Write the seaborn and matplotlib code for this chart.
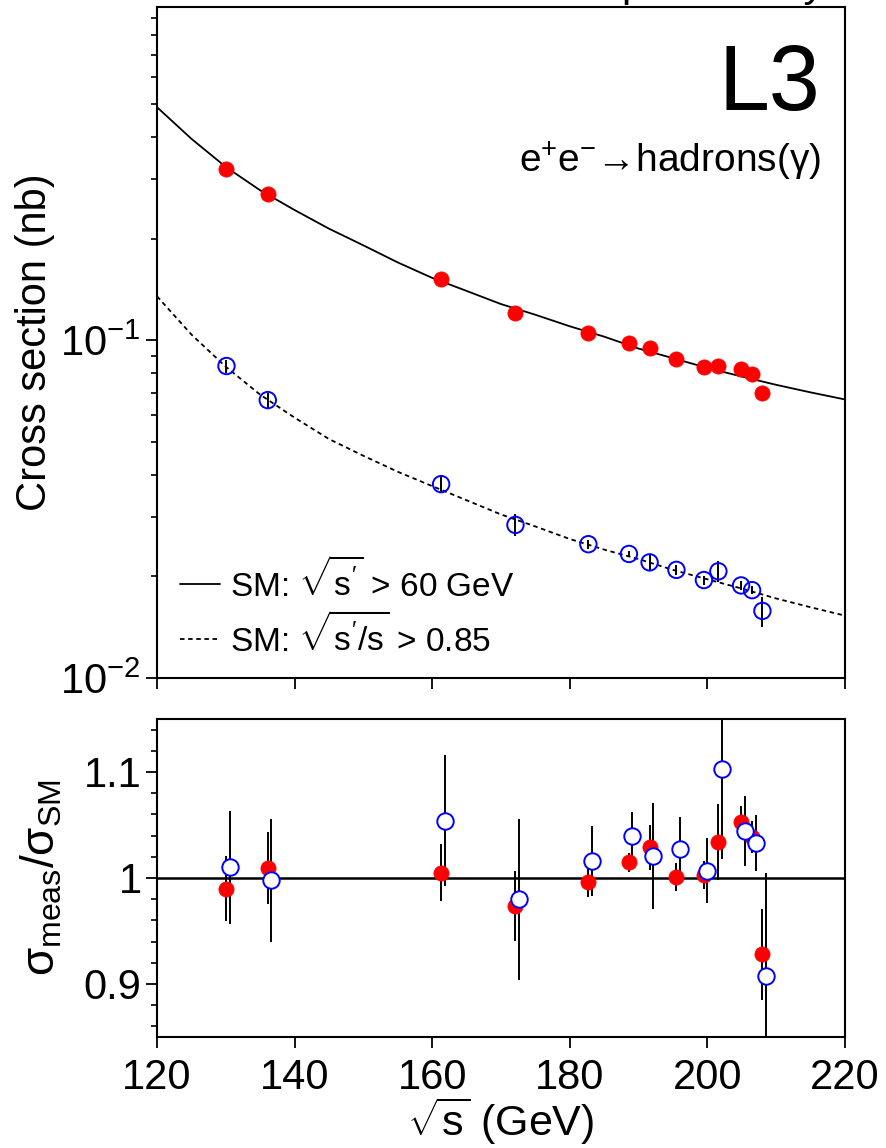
import numpy as np
import pandas as pd
import matplotlib
matplotlib.use("Agg")
import matplotlib.pyplot as plt
from matplotlib.ticker import FixedLocator, LogLocator, NullFormatter, MultipleLocator
import seaborn as sns

# --- data ---
energy = [130.1, 136.1, 161.3, 172.1, 182.7, 188.6, 191.6, 195.5, 199.5, 201.6, 204.9, 206.5, 208.0]

xsec_60 = [0.321, 0.271, 0.152, 0.1208, 0.1054, 0.098, 0.0951, 0.0882, 0.0835, 0.0839, 0.0824, 0.0797, 0.0700]
xsec_60_err = [0.004, 0.004, 0.003, 0.003, 0.0012, 0.0008, 0.0018, 0.0011, 0.0010, 0.0025, 0.0012, 0.0012, 0.003]
xsec_085 = [0.0839, 0.0665, 0.0375, 0.0284, 0.0249, 0.0233, 0.0220, 0.0209, 0.0195, 0.0207, 0.0188, 0.0182, 0.0158]
xsec_085_err = [0.0038, 0.0034, 0.0021, 0.0021, 0.0008, 0.0005, 0.0011, 0.0007, 0.0006, 0.0015, 0.0006, 0.0005, 0.0016]

curve_energy = [120, 125, 130, 135, 140, 145, 150, 155, 160, 165, 170, 175, 180, 185, 190, 195, 200, 205, 210, 215, 220]
curve_sm_60 = [0.49, 0.395, 0.326, 0.278, 0.243, 0.214, 0.191, 0.170, 0.153, 0.140, 0.128, 0.119, 0.110, 0.1025,
               0.0945, 0.0885, 0.0828, 0.0781, 0.0738, 0.0701, 0.0668]
curve_sm_085 = [0.135, 0.104, 0.0835, 0.0690, 0.0590, 0.0510, 0.0455, 0.0408, 0.0370, 0.0336, 0.0305, 0.0281, 0.0258,
                0.0240, 0.0225, 0.0209, 0.0196, 0.0184, 0.0172, 0.0162, 0.0153]

# ratio panel (blue points drawn slightly shifted in energy)
energy_ratio_blue = [130.6, 136.6, 161.8, 172.6, 183.2, 189.1, 192.1, 196.0, 200.0, 202.1, 205.4, 207.0, 208.5]
ratio_60 = [0.990, 1.009, 1.005, 0.974, 0.996, 1.015, 1.029, 1.001, 1.003, 1.034, 1.053, 1.039, 0.928]
ratio_60_err = [0.031, 0.034, 0.027, 0.033, 0.014, 0.009, 0.021, 0.013, 0.013, 0.036, 0.015, 0.015, 0.043]
ratio_085 = [1.010, 0.998, 1.054, 0.980, 1.016, 1.040, 1.021, 1.027, 1.007, 1.103, 1.044, 1.033, 0.908]
ratio_085_err = [0.053, 0.058, 0.062, 0.076, 0.033, 0.022, 0.050, 0.031, 0.031, 0.085, 0.033, 0.026, 0.097]

x_ticks = [120, 140, 160, 180, 200, 220]

sns.set_style("ticks")
plt.rcParams['font.family'] = ['Liberation Sans', 'DejaVu Sans']
plt.rcParams['mathtext.fontset'] = 'custom'
plt.rcParams['mathtext.rm'] = 'Liberation Sans'
plt.rcParams['mathtext.it'] = 'Liberation Sans'
plt.rcParams['mathtext.bf'] = 'Liberation Sans:bold'
plt.rcParams['axes.linewidth'] = 1.5
plt.rcParams['axes.edgecolor'] = 'black'
# seaborn's style greys the text; the reference is plain black
for key in ['text.color', 'axes.labelcolor', 'xtick.color', 'ytick.color']:
    plt.rcParams[key] = 'black'

RED = '#ff0000'
BLUE = '#0000ff'

fig = plt.figure(figsize=(8.86, 11.48), dpi=100)
ax = fig.add_axes([0.1772, 0.4094, 0.7765, 0.5845])
axr = fig.add_axes([0.1772, 0.0967, 0.7765, 0.2770])

curves = pd.DataFrame({'E': curve_energy, 'sm60': curve_sm_60, 'sm085': curve_sm_085})
pts = pd.DataFrame({'E': energy, 'x60': xsec_60, 'x085': xsec_085})

# --- top panel ---
sns.lineplot(data=curves, x='E', y='sm60', ax=ax, color='black', lw=1.3,
             label=r"SM: $\sqrt{s^{\prime}}$ > 60 GeV")
sns.lineplot(data=curves, x='E', y='sm085', ax=ax, color='black', lw=1.3, linestyle=(0, (2.5, 2.0)),
             label=r"SM: $\sqrt{s^{\prime}/s}$ > 0.85")
ax.errorbar(energy, xsec_60, yerr=xsec_60_err, fmt='none', ecolor='black', elinewidth=1.4, zorder=3)
ax.errorbar(energy, xsec_085, yerr=xsec_085_err, fmt='none', ecolor='black', elinewidth=1.4, zorder=3)
sns.scatterplot(data=pts, x='E', y='x60', ax=ax, color=RED, s=120, edgecolor=RED, linewidth=0.5, zorder=4)
sns.scatterplot(data=pts, x='E', y='x085', ax=ax, facecolor='none', edgecolor=BLUE, s=140, linewidth=1.4,
                marker='o', zorder=4)

ax.set_yscale('log')
ax.set_xlim(120, 220)
ax.set_ylim(0.01, 0.97)
ax.xaxis.set_major_locator(FixedLocator(x_ticks))
ax.set_xticklabels([])
ax.yaxis.set_major_locator(LogLocator(base=10, numticks=10))
ax.yaxis.set_minor_locator(LogLocator(base=10, subs=np.arange(2, 10), numticks=20))
ax.yaxis.set_minor_formatter(NullFormatter())
ax.tick_params(axis='both', which='major', direction='out', length=8, width=1.3, labelsize=30, pad=4)
ax.tick_params(axis='y', which='minor', direction='out', length=4.5, width=1.2)
ax.set_xlabel('')
ax.set_ylabel('Cross section (nb)', fontsize=30)
ax.yaxis.set_label_coords(-0.148, 0.5)

leg = ax.legend(loc='lower left', bbox_to_anchor=(0.033, 0.03), frameon=False, fontsize=24,
                handlelength=1.2, handletextpad=0.3, labelspacing=0.3, borderaxespad=0, borderpad=0)

ax.text(0.964, 0.846, 'L3', transform=ax.transAxes, ha='right', va='baseline', fontsize=66)
ax.text(0.965, 0.754, "e$^{+}$e$^{-}$\u2192hadrons(\u03b3)", transform=ax.transAxes,
        ha='right', va='baseline', fontsize=28)
fig.text(0.931, 1.0035, 'preliminary', ha='right', va='baseline', fontsize=30)

# --- ratio panel ---
axr.axhline(1.0, color='black', lw=1.8, zorder=2)
axr.errorbar(energy, ratio_60, yerr=ratio_60_err, fmt='none', ecolor='black', elinewidth=1.4, zorder=3)
axr.errorbar(energy_ratio_blue, ratio_085, yerr=ratio_085_err, fmt='none', ecolor='black', elinewidth=1.4, zorder=3)
sns.scatterplot(x=energy, y=ratio_60, ax=axr, color=RED, s=120, edgecolor=RED, linewidth=0.5, zorder=4)
sns.scatterplot(x=energy_ratio_blue, y=ratio_085, ax=axr, facecolor='white', edgecolor=BLUE, s=140,
                linewidth=1.4, zorder=5)

axr.set_xlim(120, 220)
axr.set_ylim(0.85, 1.15)
axr.xaxis.set_major_locator(FixedLocator(x_ticks))
axr.yaxis.set_major_locator(FixedLocator([0.9, 1.0, 1.1]))
axr.set_yticklabels(['0.9', '1', '1.1'])
axr.yaxis.set_minor_locator(MultipleLocator(0.02))
axr.tick_params(axis='both', which='major', direction='out', length=8, width=1.3, labelsize=30, pad=3)
axr.tick_params(axis='x', which='major', pad=7)
axr.tick_params(axis='y', which='minor', direction='out', length=4.5, width=1.2)
axr.set_xlabel(r"$\sqrt{s}$ (GeV)", fontsize=31, labelpad=-2)
axr.set_ylabel(r"$\sigma_{\mathrm{meas}}/\sigma_{\mathrm{SM}}$", fontsize=33)
axr.yaxis.set_label_coords(-0.135, 0.5)

for a in (ax, axr):
    for sp in a.spines.values():
        sp.set_visible(True)
        sp.set_linewidth(1.5)

fig.savefig('out.png', dpi=100)
